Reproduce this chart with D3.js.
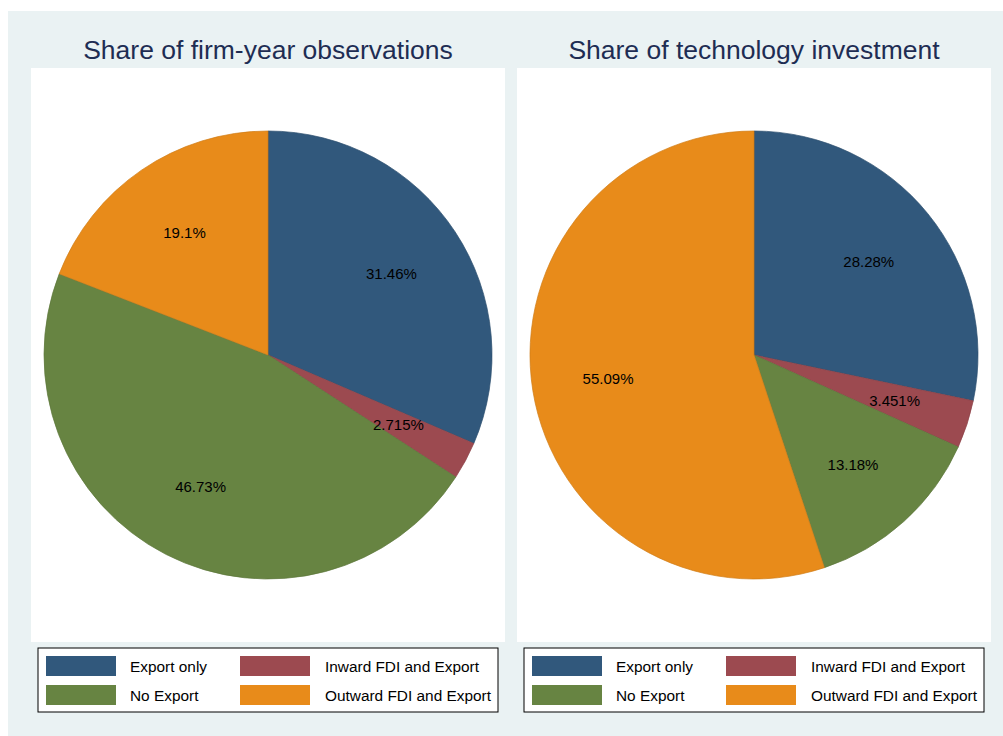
<!DOCTYPE html>
<html>
<head>
<meta charset="utf-8">
<script src="https://cdn.jsdelivr.net/npm/d3@7"></script>
<style>
  body { margin: 0; background: #fff; }
  text { font-family: "Liberation Sans", Arial, Helvetica, sans-serif; }
</style>
</head>
<body>
<div id="chart"></div>
<script>
// data
var categories = ["Export only", "Inward FDI and Export", "No Export", "Outward FDI and Export"];
var obsShares = [31.46, 2.715, 46.73, 19.1];
var techShares = [28.28, 3.451, 13.18, 55.09];
var panelTitles = ["Share of firm-year observations", "Share of technology investment"];
var colors = ["#31587c", "#9c4a50", "#678442", "#e88b1a"];

var width = 1003, height = 736;
var svg = d3.select("#chart").append("svg")
    .attr("width", width)
    .attr("height", height);

svg.append("rect")
    .attr("x", 8).attr("y", 11)
    .attr("width", width - 8).attr("height", height - 11)
    .attr("fill", "#eaf2f3");

var panels = [
  {x: 31, shares: obsShares, title: panelTitles[0]},
  {x: 517, shares: techShares, title: panelTitles[1]}
];
var panelW = 474, plotTop = 68, plotBottom = 642;
var radius = 224;
var fmt = d3.format(".4~g");

var pie = d3.pie().sort(null).value(function(d){ return d; });
var arc = d3.arc().innerRadius(0).outerRadius(radius);
var labelArc = d3.arc().innerRadius(radius * 0.66).outerRadius(radius * 0.66);

panels.forEach(function(p){
  var cx = p.x + panelW / 2;
  var cy = 355;

  svg.append("rect")
      .attr("x", p.x).attr("y", plotTop)
      .attr("width", panelW).attr("height", plotBottom - plotTop)
      .attr("fill", "#fff");

  svg.append("text")
      .attr("x", cx).attr("y", 59)
      .attr("text-anchor", "middle")
      .attr("font-size", 26.5)
      .attr("fill", "#1e2d53")
      .text(p.title);

  var g = svg.append("g").attr("transform", "translate(" + cx + "," + cy + ")");
  var arcs = pie(p.shares);

  g.selectAll("path.slice")
    .data(arcs)
    .enter().append("path")
      .attr("class", "slice")
      .attr("d", arc)
      .attr("fill", function(d, i){ return colors[i]; })
      .attr("stroke", function(d, i){ return d3.color(colors[i]).darker(0.3); })
      .attr("stroke-width", 0.7);

  g.selectAll("text.lbl")
    .data(arcs)
    .enter().append("text")
      .attr("class", "lbl")
      .attr("transform", function(d){ return "translate(" + labelArc.centroid(d) + ")"; })
      .attr("text-anchor", "middle")
      .attr("dy", "0.35em")
      .attr("font-size", 15)
      .attr("fill", "#000")
      .text(function(d){ return fmt(d.value) + "%"; });

  // legend
  var lx = p.x + 7, ly = 648;
  var leg = svg.append("g").attr("transform", "translate(" + lx + "," + ly + ")");
  leg.append("rect")
      .attr("x", 0).attr("y", 0)
      .attr("width", 460).attr("height", 64)
      .attr("fill", "#fff")
      .attr("stroke", "#000")
      .attr("stroke-width", 1);

  var colX = [8, 202], textX = [92, 287], rowY = [8, 37];
  categories.forEach(function(c, i){
    var col = i % 2, row = Math.floor(i / 2);
    leg.append("rect")
        .attr("x", colX[col]).attr("y", rowY[row])
        .attr("width", 70).attr("height", 20)
        .attr("fill", colors[i]);
    leg.append("text")
        .attr("x", textX[col]).attr("y", rowY[row] + 11)
        .attr("dy", "0.35em")
        .attr("font-size", 15.4)
        .attr("fill", "#000")
        .text(c);
  });
});
</script>
</body>
</html>
